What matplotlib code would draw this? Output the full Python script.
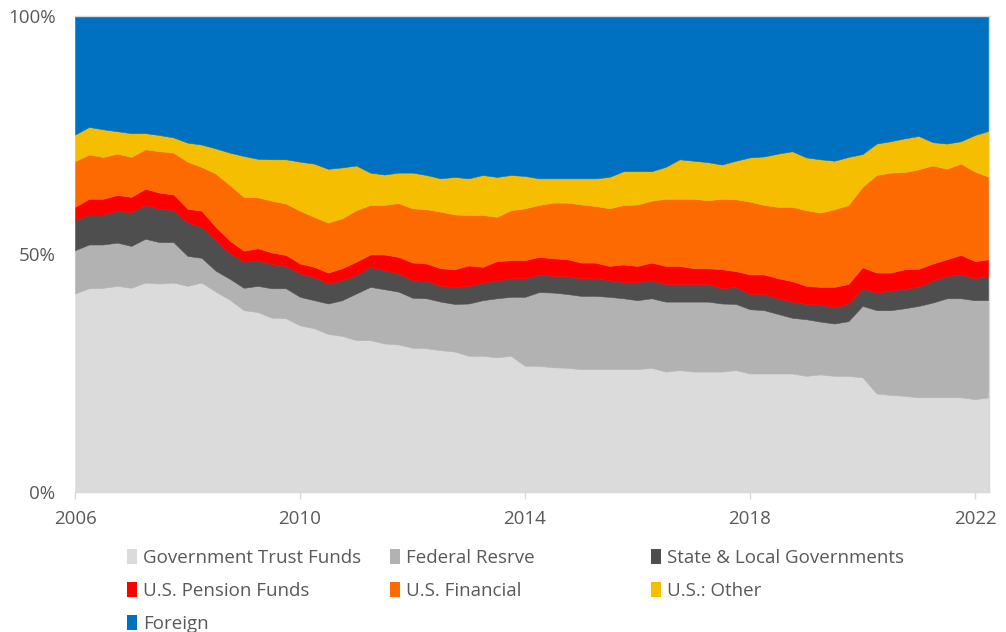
import numpy as np
import pandas as pd
import matplotlib
matplotlib.use('Agg')
import matplotlib.pyplot as plt
from matplotlib.patches import Patch

# 季度 2006Q1 - 2022Q2
quarters = pd.period_range('2006Q1', '2022Q2', freq='Q')
x = quarters.year + (quarters.quarter - 1) / 4

labels = ['Government Trust Funds', 'Federal Resrve', 'State & Local Governments',
          'U.S. Pension Funds', 'U.S. Financial', 'U.S.: Other', 'Foreign']
colors = ['#DBDBDB', '#B2B2B2', '#4E4E4E', '#FF0000', '#FD6A02', '#F5BE00', '#0070C0']

# share of total (%)
trust_funds = [41.7, 42.8, 42.9, 43.3, 42.9, 44.0, 43.8, 44.0, 43.3, 44.0, 42.1, 40.4,
               38.2, 37.8, 36.6, 36.5, 35.0, 34.4, 33.2, 32.8, 31.9, 31.9, 31.2, 31.0,
               30.3, 30.2, 29.8, 29.5, 28.6, 28.6, 28.3, 28.6, 26.5, 26.5, 26.2, 26.1,
               25.8, 25.8, 25.8, 25.8, 25.8, 26.1, 25.3, 25.6, 25.3, 25.3, 25.3, 25.6,
               24.9, 24.9, 24.9, 24.9, 24.4, 24.7, 24.4, 24.4, 24.1, 20.7, 20.4, 20.2,
               19.9, 19.9, 19.9, 19.9, 19.5, 19.9]
fed_reserve = [9.1, 9.2, 9.1, 9.1, 8.8, 9.2, 8.7, 8.5, 6.3, 5.2, 4.4, 4.4,
               4.7, 5.5, 6.2, 6.3, 6.0, 5.9, 6.4, 7.5, 9.8, 11.2, 11.4, 11.1,
               10.5, 10.5, 10.2, 10.0, 11.0, 11.7, 12.4, 12.4, 14.5, 15.5, 15.7, 15.5,
               15.4, 15.4, 15.2, 14.9, 14.5, 14.6, 14.7, 14.4, 14.7, 14.7, 14.3, 13.9,
               13.5, 13.3, 12.5, 11.7, 11.9, 11.1, 11.0, 11.5, 15.0, 17.5, 17.8, 18.4,
               19.2, 19.9, 20.8, 20.8, 20.8, 20.4]
state_local = [6.3, 6.3, 6.3, 6.7, 7.1, 7.1, 7.0, 6.7, 7.0, 6.5, 6.4, 5.4,
               5.5, 5.4, 5.1, 4.7, 4.9, 4.9, 4.2, 4.2, 3.9, 4.2, 4.0, 3.8,
               3.7, 3.7, 3.3, 3.6, 3.7, 3.7, 3.7, 3.9, 3.9, 3.7, 3.5, 3.8,
               3.7, 3.7, 3.5, 3.4, 3.8, 3.8, 3.7, 3.7, 3.7, 3.7, 3.2, 3.6,
               3.2, 3.4, 3.3, 3.4, 3.2, 3.6, 3.4, 3.7, 3.6, 3.7, 4.1, 4.1,
               4.0, 4.6, 4.7, 5.0, 4.6, 5.1]
pension = [2.8, 3.3, 3.3, 3.3, 3.2, 3.4, 3.4, 3.3, 2.9, 3.4, 2.8, 2.6,
           2.3, 2.5, 2.4, 2.3, 2.1, 2.1, 2.3, 2.5, 2.8, 2.6, 3.3, 3.5,
           3.7, 3.6, 3.7, 3.7, 4.3, 3.3, 4.1, 3.8, 3.8, 3.7, 3.7, 3.5,
           3.3, 3.3, 3.0, 3.7, 3.4, 3.7, 3.8, 3.8, 3.3, 3.3, 4.0, 3.3,
           4.1, 4.1, 4.2, 4.3, 3.8, 3.7, 4.3, 4.1, 4.5, 4.2, 3.8, 4.1,
           3.8, 3.6, 3.5, 4.1, 3.6, 3.5]
financial = [9.6, 9.3, 8.8, 8.7, 8.4, 8.3, 8.7, 8.8, 9.9, 9.2, 11.2, 11.7,
             11.3, 10.7, 10.9, 10.8, 11.1, 10.5, 10.5, 10.5, 10.8, 10.4, 10.4, 11.3,
             11.4, 11.4, 11.9, 11.5, 10.6, 10.9, 9.3, 10.5, 10.9, 10.9, 11.7, 11.9,
             12.2, 11.9, 12.1, 12.5, 12.9, 13.0, 14.1, 14.1, 14.6, 14.3, 14.8, 15.1,
             15.3, 14.6, 15.0, 15.6, 15.9, 15.6, 16.3, 16.6, 16.9, 20.5, 21.0, 20.4,
             20.9, 20.6, 19.0, 19.2, 18.8, 17.3]
other = [5.6, 5.8, 5.8, 4.7, 5.0, 3.4, 3.4, 3.2, 4.0, 4.7, 5.3, 6.8,
         8.6, 8.1, 8.7, 9.3, 10.3, 11.2, 11.3, 10.7, 9.4, 6.8, 6.4, 6.4,
         7.5, 7.2, 7.0, 7.9, 7.7, 8.4, 8.4, 7.4, 6.8, 5.6, 5.1, 5.1,
         5.5, 5.8, 6.6, 7.1, 7.0, 6.2, 6.7, 8.3, 8.0, 8.0, 7.2, 8.1,
         9.3, 10.2, 11.2, 11.7, 11.1, 11.2, 10.2, 10.1, 6.9, 6.6, 6.6, 7.1,
         7.0, 4.9, 5.3, 4.7, 7.7, 9.7]
foreign = [24.9, 23.3, 23.8, 24.2, 24.6, 24.6, 25.0, 25.5, 26.6, 27.0, 27.8, 28.7,
           29.4, 30.0, 30.1, 30.1, 30.6, 31.0, 32.1, 31.8, 31.4, 32.9, 33.3, 32.9,
           32.9, 33.4, 34.1, 33.8, 34.1, 33.4, 33.8, 33.4, 33.6, 34.1, 34.1, 34.1,
           34.1, 34.1, 33.8, 32.6, 32.6, 32.6, 31.7, 30.1, 30.4, 30.7, 31.2, 30.4,
           29.7, 29.5, 28.9, 28.4, 29.7, 30.1, 30.4, 29.6, 29.0, 26.8, 26.3, 25.7,
           25.2, 26.5, 26.8, 26.3, 25.0, 24.1]

series = [trust_funds, fed_reserve, state_local, pension, financial, other, foreign]

plt.rcParams['font.family'] = ['Open Sans', 'DejaVu Sans']
text_color = '#595959'
line_color = '#D9D9D9'

fig = plt.figure(figsize=(10.06, 6.32), dpi=100)
ax = fig.add_axes([75 / 1006, 1 - 492 / 632, (989 - 75) / 1006, (492 - 16) / 632])

polys = ax.stackplot(x, *series, colors=colors, linewidth=0)
for p, c in zip(polys, colors):
    p.set_edgecolor(c)
    p.set_linewidth(0.4)

ax.set_xlim(2006, 2022.25)
ax.set_ylim(0, 100)
ax.set_xticks([2006, 2010, 2014, 2018, 2022])
ax.set_yticks([0, 50, 100])
ax.set_yticklabels(['0%', '50%', '100%'])

ax.tick_params(axis='x', colors=line_color, labelcolor=text_color, labelsize=13.5,
               length=5, width=1, direction='out', pad=8)
ax.tick_params(axis='y', length=0, labelcolor=text_color, labelsize=13.5, pad=14)

ax.spines['left'].set_visible(False)
for s in ['top', 'right', 'bottom']:
    ax.spines[s].set_color(line_color)
    ax.spines[s].set_linewidth(1)
ax.set_axisbelow(False)

# 图例：三列，手动放置
handles = [Patch(facecolor=c, edgecolor='none') for c in colors]
cols = [[0, 3, 6], [1, 4], [2, 5]]
col_x = [127, 390, 651]
for idx, cx in zip(cols, col_x):
    fig.legend([handles[i] for i in idx], [labels[i] for i in idx],
               loc='upper left', bbox_to_anchor=(cx / 1006, 1 - 549 / 632),
               frameon=False, fontsize=13.5, labelcolor=text_color,
               handlelength=0.55, handleheight=0.85, handletextpad=0.3,
               labelspacing=0.8, borderpad=0, borderaxespad=0)

fig.savefig('out.png', dpi=100)
